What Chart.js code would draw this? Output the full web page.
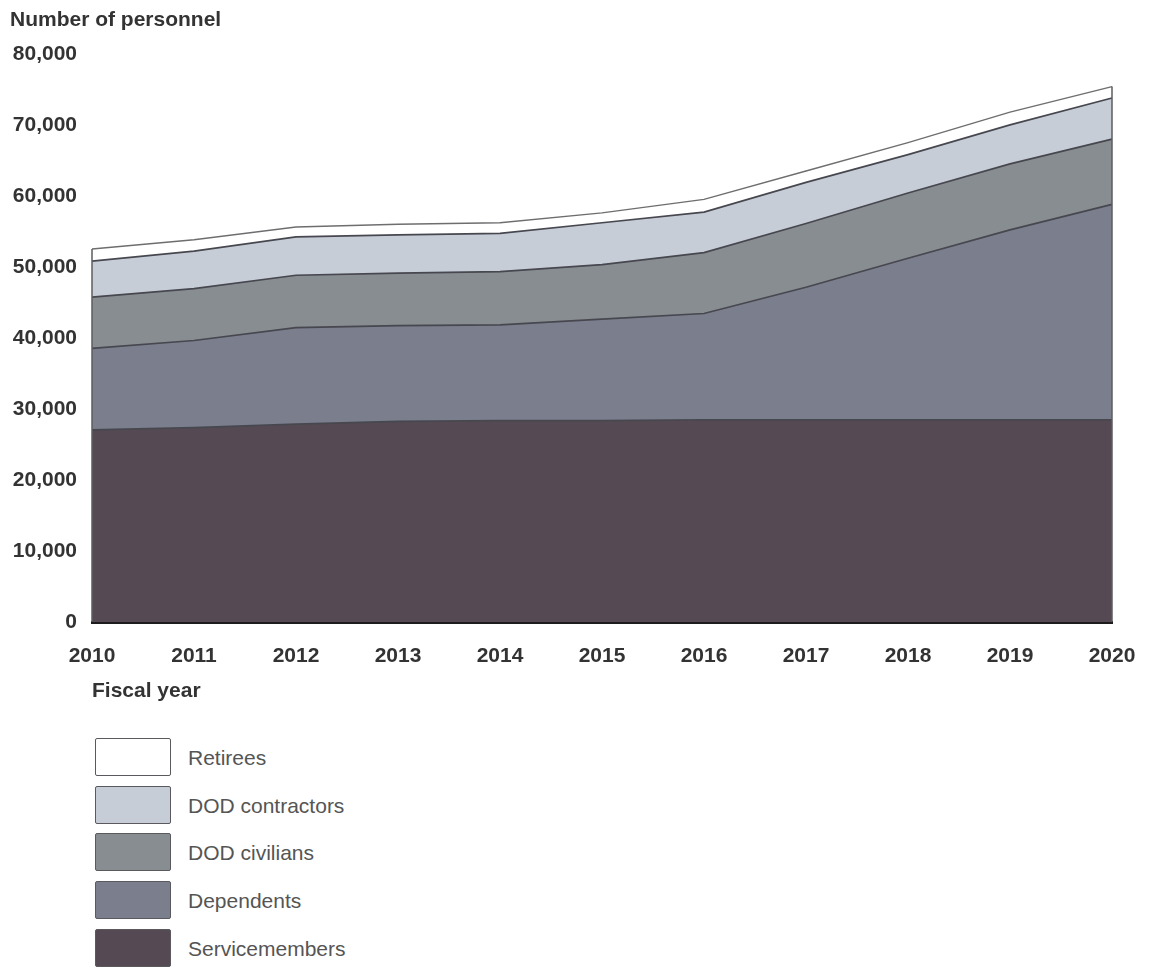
<!DOCTYPE html>
<html>
<head>
<meta charset="utf-8">
<script src="https://cdn.jsdelivr.net/npm/chart.js@4/dist/chart.umd.min.js"></script>
<style>
  html, body { margin: 0; padding: 0; background: #ffffff; }
  body { width: 1153px; height: 967px; position: relative; overflow: hidden; font-family: "Liberation Sans", Arial, sans-serif; }
  #wrap { position: absolute; left: 0; top: 0; width: 1153px; height: 720px; }
  #legend { position: absolute; left: 95px; top: 738px; }
  .item { position: absolute; left: 0; height: 39px; width: 400px; }
  .box { position: absolute; left: 0; top: 0; width: 74px; height: 36px; border: 1.5px solid #5a5a5e; border-radius: 2px; }
  .lbl { position: absolute; left: 93px; top: 0; line-height: 39px; font-size: 21px; color: #555; white-space: nowrap; }
</style>
</head>
<body>
<div id="wrap"><canvas id="c" width="1153" height="720"></canvas></div>
<div id="legend"></div>
<script>
const years = ["2010","2011","2012","2013","2014","2015","2016","2017","2018","2019","2020"];
const servicemembers = [27100, 27400, 27900, 28300, 28400, 28400, 28500, 28500, 28500, 28500, 28500];
const dependents     = [11500, 12300, 13600, 13500, 13500, 14300, 15000, 18700, 22800, 26800, 30400];
const dodCivilians   = [7200, 7300, 7400, 7400, 7500, 7700, 8600, 9000, 9200, 9300, 9200];
const dodContractors = [5100, 5300, 5400, 5400, 5400, 5900, 5700, 5800, 5400, 5500, 5800];
const retirees       = [1700, 1600, 1400, 1500, 1500, 1400, 1800, 1600, 1700, 1800, 1600];
const seriesNames = ["Servicemembers", "Dependents", "DOD civilians", "DOD contractors", "Retirees"];
const seriesColors = ["#554a53", "#7b7e8d", "#878d91", "#c6cdd7", "#ffffff"];
const yTicks = [0, 10000, 20000, 30000, 40000, 50000, 60000, 70000, 80000];

const seriesData = [servicemembers, dependents, dodCivilians, dodContractors, retirees];
const FONT = '"Liberation Sans", Arial, sans-serif';

const datasets = seriesData.map((d, i) => ({
  label: seriesNames[i],
  data: d,
  backgroundColor: seriesColors[i],
  borderColor: i === 4 ? '#6e6e70' : '#47474f',
  borderWidth: i === 4 ? 1.4 : 1.7,
  fill: i === 0 ? 'origin' : '-1',
  pointRadius: 0,
  tension: 0
}));

const edgePlugin = {
  id: 'edges',
  afterDatasetsDraw(chart) {
    const meta = chart.getDatasetMeta(chart.data.datasets.length - 1);
    const pts = meta.data;
    const base = chart.scales.y.getPixelForValue(0);
    const ctx = chart.ctx;
    ctx.save();
    ctx.strokeStyle = '#5c5c60';
    ctx.lineWidth = 1.5;
    [0, pts.length - 1].forEach(i => {
      ctx.beginPath();
      ctx.moveTo(pts[i].x, pts[i].y);
      ctx.lineTo(pts[i].x, base);
      ctx.stroke();
    });
    ctx.restore();
  }
};

new Chart(document.getElementById('c'), {
  type: 'line',
  data: { labels: years, datasets },
  plugins: [edgePlugin],
  options: {
    responsive: false,
    animation: false,
    layout: { padding: { left: 10, right: 41, top: 0, bottom: 0 } },
    plugins: {
      legend: { display: false },
      tooltip: { enabled: false },
      title: {
        display: true,
        text: 'Number of personnel',
        align: 'start',
        color: '#333',
        font: { family: FONT, size: 21, weight: 'bold' },
        padding: { top: 8, bottom: 21.5 }
      }
    },
    scales: {
      x: {
        offset: false,
        grid: { display: false, drawTicks: false, tickLength: 0 },
        border: { display: true, color: '#1c1c1c', width: 3 },
        ticks: { color: '#333', font: { family: FONT, size: 21, weight: 'bold' }, padding: 22, maxRotation: 0, autoSkip: false },
        title: {
          display: true,
          text: 'Fiscal year',
          align: 'start',
          color: '#333',
          font: { family: FONT, size: 21, weight: 'bold' },
          padding: { top: 0, bottom: 16 }
        },
        afterFit(s) { s.height = 98; s.paddingLeft = 0; s.paddingRight = 0; }
      },
      y: {
        stacked: true,
        min: 0,
        max: 80000,
        grid: { display: false, drawTicks: false, tickLength: 0 },
        border: { display: false },
        afterBuildTicks(s) { s.ticks = yTicks.map(v => ({ value: v })); },
        ticks: {
          color: '#333',
          font: { family: FONT, size: 21, weight: 'bold' },
          padding: 15,
          callback: v => v.toLocaleString('en-US')
        },
        afterFit(s) { s.width = 82; }
      }
    }
  }
});

const legend = document.getElementById('legend');
const order = [4, 3, 2, 1, 0];
order.forEach((idx, k) => {
  const item = document.createElement('div');
  item.className = 'item';
  item.style.top = (k * 47.7) + 'px';
  const box = document.createElement('div');
  box.className = 'box';
  box.style.background = seriesColors[idx];
  const lbl = document.createElement('div');
  lbl.className = 'lbl';
  lbl.textContent = seriesNames[idx];
  item.appendChild(box);
  item.appendChild(lbl);
  legend.appendChild(item);
});
</script>
</body>
</html>
